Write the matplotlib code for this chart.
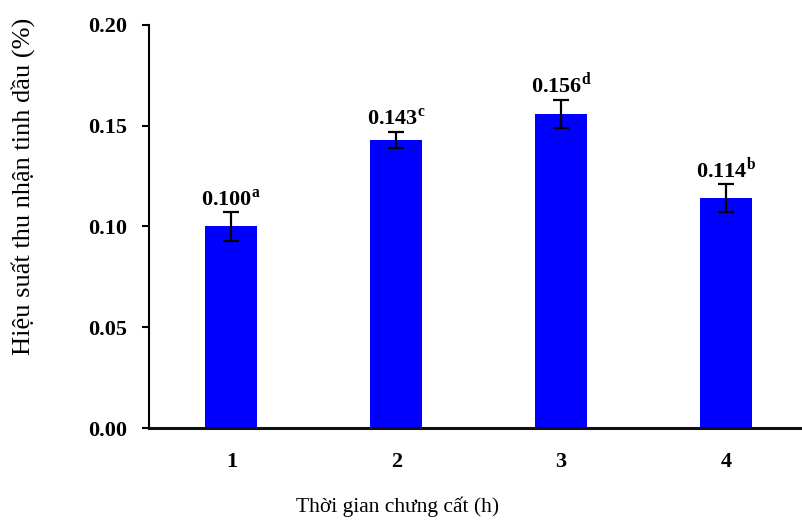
import matplotlib
matplotlib.use("Agg")
import matplotlib.pyplot as plt

categories = ["1", "2", "3", "4"]
values = [0.100, 0.143, 0.156, 0.114]
errors = [0.007, 0.004, 0.007, 0.007]
letters = ["a", "c", "d", "b"]
yticks = [0.00, 0.05, 0.10, 0.15, 0.20]

plt.rcParams['font.family'] = ['Liberation Serif', 'DejaVu Serif']
plt.rcParams['mathtext.fontset'] = 'custom'
plt.rcParams['mathtext.rm'] = 'Liberation Serif'
plt.rcParams['mathtext.bf'] = 'Liberation Serif:bold'

W, H = 803, 520
L, R, B, T = 149, 800, 428, 25
fig = plt.figure(figsize=(W / 100, H / 100), dpi=100)
ax = fig.add_axes([L / W, 1 - B / H, (R - L) / W, (B - T) / H])

x = list(range(len(categories)))
ax.bar(x, values, width=0.316, color="#0000FF", zorder=2)
ax.errorbar(x, values, yerr=errors, fmt='none', ecolor='black', elinewidth=1.6,
            capsize=6, capthick=1.6, zorder=3)

for xi, v, e, l in zip(x, values, errors, letters):
    ax.text(xi, v + e + 0.0008, f"{v:.3f}" + r"$^{\mathbf{" + l + "}}$",
            ha='center', va='bottom', fontsize=16, fontweight='bold')

ax.set_xlim(-0.5, 3.45)
ax.set_ylim(0, 0.20)
ax.set_yticks(yticks)
ax.set_yticklabels([f"{t:.2f}" for t in yticks], fontsize=16, fontweight='bold')
ax.set_xticks(x)
ax.set_xticklabels(categories, fontsize=16, fontweight='bold')
ax.tick_params(axis='x', length=0, pad=17)
ax.tick_params(axis='y', length=5, width=1.5, direction='out', pad=11)

for s in ['top', 'right']:
    ax.spines[s].set_visible(False)
ax.spines['left'].set_linewidth(1.5)
ax.spines['bottom'].set_linewidth(2.2)
ax.spines['bottom'].set_color('#111111')

aw, ah = R - L, B - T
ax.set_xlabel("Thời gian chưng cất (h)", fontsize=15.5)
ax.xaxis.set_label_coords((398 - L) / aw, -(507 - B) / ah)
ax.xaxis.label.set_va('center')
ax.set_ylabel("Hiệu suất thu nhận tinh dầu (%)", fontsize=19)
ax.yaxis.set_label_coords(-(L - 23) / aw, (B - 186) / ah)
ax.yaxis.label.set_va('center')

fig.savefig("out.png", dpi=100)
